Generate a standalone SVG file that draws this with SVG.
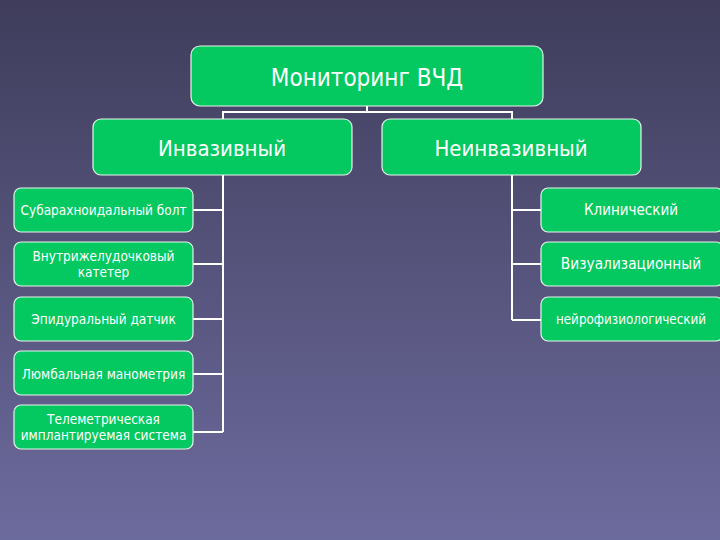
<svg xmlns="http://www.w3.org/2000/svg" width="720" height="540" viewBox="0 0 720 540">
<defs>
<linearGradient id="bg" x1="0" y1="0" x2="0" y2="1">
<stop offset="0" stop-color="#3f3d5b"/>
<stop offset="1" stop-color="#6c6b9d"/>
</linearGradient>
<style>
.box{fill:#04c860;stroke:#e6f5ec;stroke-width:1.2}
.t{fill:#ffffff;font-family:"DejaVu Sans Condensed","Liberation Sans",sans-serif;text-anchor:middle}
.big{font-size:24px}
.mid{font-size:22px}
.sm{font-size:13.5px}
.c{fill:none;stroke:#ffffff;stroke-width:2}
</style>
</defs>
<rect width="720" height="540" fill="url(#bg)"/>
<g id="connectors">
<path class="c" d="M367 106 V112 M223 119 V112 H512 V119"/>
<path class="c" d="M223 175 V432 M193 210 H223 M193 264 H223 M193 319 H223 M193 374 H223 M193 432 H223"/>
<path class="c" d="M512 175 V320 M512 210 H541 M512 264 H541 M512 320 H541"/>
</g>
<g id="root"><rect class="box" x="191" y="46" width="352" height="60" rx="9"/><text class="t big" x="367" y="86">Мониторинг ВЧД</text></g>
<g id="invasive"><rect class="box" x="93" y="119" width="259" height="56" rx="8"/><text class="t mid" x="222" y="156">Инвазивный</text></g>
<g id="noninvasive"><rect class="box" x="382" y="119" width="259" height="56" rx="8"/><text class="t mid" x="511" y="156">Неинвазивный</text></g>
<g id="subarachnoid"><rect class="box" x="14" y="188" width="179" height="44" rx="7"/><text class="t sm" x="103.5" y="215">Субарахноидальный болт</text></g>
<g id="intraventricular"><rect class="box" x="14" y="242" width="179" height="44" rx="7"/><text class="t sm" x="103.5" y="261">Внутрижелудочковый</text><text class="t sm" x="103.5" y="277">катетер</text></g>
<g id="epidural"><rect class="box" x="14" y="297" width="179" height="44" rx="7"/><text class="t sm" x="103.5" y="324">Эпидуральный датчик</text></g>
<g id="lumbar"><rect class="box" x="14" y="351" width="179" height="44" rx="7"/><text class="t sm" x="103.5" y="379">Люмбальная манометрия</text></g>
<g id="telemetric"><rect class="box" x="14" y="405" width="179" height="44" rx="7"/><text class="t sm" x="103.5" y="424">Телеметрическая</text><text class="t sm" x="103.5" y="440">имплантируемая система</text></g>
<g id="clinical"><rect class="box" x="541" y="188" width="182" height="44" rx="7"/><text class="t" x="631" y="215" style="font-size:15px">Клинический</text></g>
<g id="visual"><rect class="box" x="541" y="242" width="182" height="44" rx="7"/><text class="t" x="631" y="269" style="font-size:15.3px">Визуализационный</text></g>
<g id="neuro"><rect class="box" x="541" y="297" width="182" height="44" rx="7"/><text class="t" x="631" y="324" style="font-size:13.3px">нейрофизиологический</text></g>
</svg>
